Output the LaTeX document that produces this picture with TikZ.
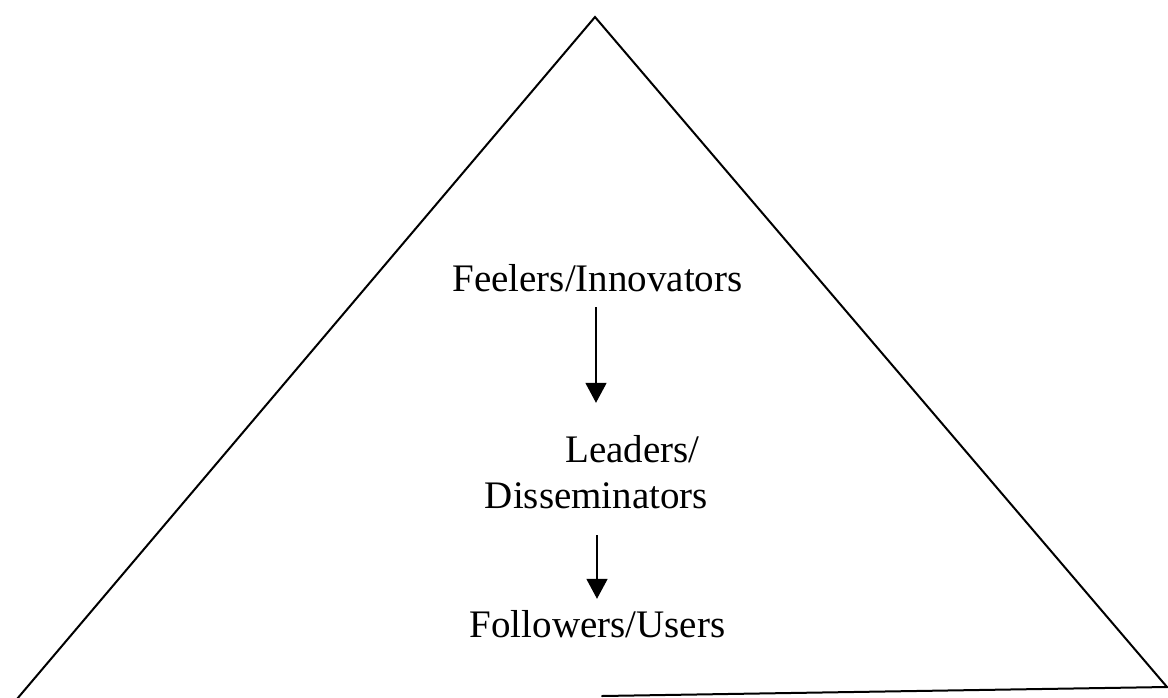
\documentclass[tikz,border=0pt]{standalone}
\usepackage{fontspec}
\setmainfont{Liberation Serif}
\usetikzlibrary{arrows.meta}
\begin{document}
\begin{tikzpicture}[x=1pt,y=-1pt,
  label/.style={inner sep=0pt,anchor=base,font=\fontsize{39}{45}\selectfont,
    text height=28.5pt,text depth=9.5pt},
  edge/.style={line width=2pt,line cap=round,line join=miter},
  flow/.style={line width=1.8pt,-{Triangle[width=21pt,length=20pt]}}]
  \useasboundingbox (0,0) rectangle (1168,697);

  % outline of the pyramid (lower left part of the base is missing)
  \coordinate (apex) at (595,17);
  \coordinate (bl) at (17,699);
  \coordinate (br) at (1167,687);
  \coordinate (bm) at (602,696);
  \draw[edge] (bl) -- (apex) -- (br) -- (bm);

  % levels
  \node[label] (feel) at (597.5,291) {Feelers/Innovators};
  \node[label] (lead) at (632.5,462) {Leaders/};
  \node[label] (diss) at (596.5,508) {Disseminators};
  \node[label] (foll) at (597.5,637) {Followers/Users};

  % downward flow between the levels
  \draw[flow,shorten <=6.5pt,shorten >=30.5pt]
    ([xshift=-1.5pt]feel.south) -- ([xshift=-1.5pt]feel.south |- lead.north);
  \draw[flow,shorten <=17.5pt,shorten >=9.5pt]
    ([xshift=0.5pt]diss.south) -- ([xshift=0.5pt]diss.south |- foll.north);
\end{tikzpicture}
\end{document}
